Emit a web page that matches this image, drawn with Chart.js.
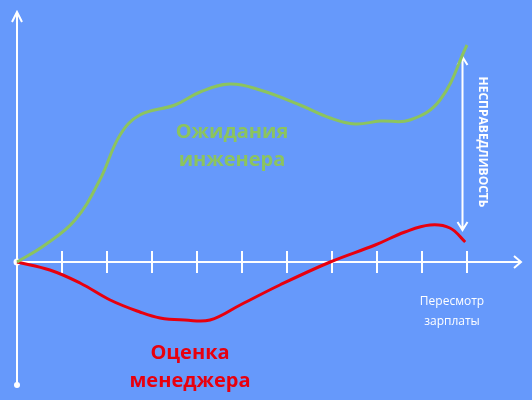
<!DOCTYPE html>
<html>
<head>
<meta charset="utf-8">
<script src="https://cdn.jsdelivr.net/npm/chart.js@4"></script>
<style>
  body { margin: 0; background: #6699fb; }
  #wrap { width: 532px; height: 400px; }
</style>
</head>
<body>
<div id="wrap"><canvas id="chart"></canvas></div>
<script>
// x in "tick" units (review periods), y in relative units above the axis
const expectX = [0, 0.62, 1.29, 1.84, 2.29, 2.73, 3.51, 4.07, 4.73, 5.4, 6.29, 6.96, 7.51, 8.07, 8.73, 9.4, 10];
const expectY = [0, 17, 42, 82, 127, 147, 157, 170, 178, 172, 157, 144, 138, 141, 142, 162, 217];
const managerX = [0, 0.73, 1.4, 2.07, 2.73, 3.18, 3.73, 4.29, 4.96, 5.84, 6.96, 7.96, 8.62, 9.18, 9.62, 9.96];
const managerY = [0, -8, -21, -38, -50, -56, -58, -58, -43, -23, 0, 17, 30, 37, 34, 20];
const tickPositions = [1, 2, 3, 4, 5, 6, 7, 8, 9, 10];

const toPoints = (xs, ys) => xs.map((x, i) => ({ x: x, y: ys[i] }));

const white = '#ffffff';

// axes, arrows and captions
const decor = {
    id: 'decor',
    beforeDatasetsDraw(chart) {
        const ctx = chart.ctx;
        const sx = chart.scales.x, sy = chart.scales.y;
        const x0 = sx.getPixelForValue(0), y0 = sy.getPixelForValue(0);
        ctx.save();
        ctx.strokeStyle = white;
        ctx.fillStyle = white;
        ctx.lineWidth = 2;
        // y axis
        ctx.beginPath();
        ctx.moveTo(x0, 385); ctx.lineTo(x0, 13);
        ctx.moveTo(x0 - 5, 22); ctx.lineTo(x0, 12); ctx.lineTo(x0 + 5, 22);
        ctx.stroke();
        ctx.beginPath(); ctx.arc(x0, 385, 3, 0, Math.PI * 2); ctx.fill();
        // x axis
        const xEnd = sx.getPixelForValue(11.2);
        ctx.beginPath();
        ctx.moveTo(x0, y0); ctx.lineTo(xEnd, y0);
        ctx.moveTo(xEnd - 7, y0 - 6); ctx.lineTo(xEnd, y0); ctx.lineTo(xEnd - 7, y0 + 6);
        ctx.stroke();
        tickPositions.forEach(t => {
            const px = sx.getPixelForValue(t);
            ctx.beginPath(); ctx.moveTo(px, y0 - 11); ctx.lineTo(px, y0 + 11); ctx.stroke();
        });
        ctx.beginPath(); ctx.arc(x0, y0, 3.5, 0, Math.PI * 2); ctx.fill();
        // double arrow
        const ax = sx.getPixelForValue(9.9);
        const ya = sy.getPixelForValue(205), yb = sy.getPixelForValue(32);
        ctx.beginPath();
        ctx.moveTo(ax, ya); ctx.lineTo(ax, yb);
        ctx.moveTo(ax - 5, ya + 8); ctx.lineTo(ax, ya); ctx.lineTo(ax + 5, ya + 8);
        ctx.moveTo(ax - 5, yb - 8); ctx.lineTo(ax, yb); ctx.lineTo(ax + 5, yb - 8);
        ctx.stroke();
        // captions
        ctx.textAlign = 'center';
        ctx.textBaseline = 'middle';
        ctx.font = 'bold 20px "Open Sans"';
        ctx.fillStyle = '#8cc45e';
        ctx.fillText('Ожидания', 232, 132);
        ctx.fillText('инженера', 232, 160);
        ctx.fillStyle = '#e8000e';
        ctx.fillText('Оценка', 190, 353);
        ctx.fillText('менеджера', 190, 381);
        ctx.fillStyle = white;
        ctx.font = '12px "Open Sans"';
        ctx.fillText('Пересмотр', 452, 302);
        ctx.fillText('зарплаты', 452, 322);
        ctx.translate(482, 142);
        ctx.rotate(Math.PI / 2);
        ctx.font = 'bold 12px "Open Sans"';
        ctx.fillText('НЕСПРАВЕДЛИВОСТЬ', 0, 0);
        ctx.restore();
    }
};

new Chart(document.getElementById('chart'), {
    type: 'scatter',
    data: {
        datasets: [{
            data: toPoints(expectX, expectY),
            showLine: true,
            borderColor: '#8cc45e',
            borderWidth: 3,
            pointRadius: 0,
            tension: 0.4
        }, {
            data: toPoints(managerX, managerY),
            showLine: true,
            borderColor: '#e8000e',
            borderWidth: 3,
            pointRadius: 0,
            tension: 0.4
        }]
    },
    options: {
        responsive: true,
        maintainAspectRatio: false,
        animation: false,
        layout: { padding: 0 },
        plugins: { legend: { display: false }, tooltip: { enabled: false } },
        scales: {
            x: { type: 'linear', display: false, min: -17 / 45, max: 515 / 45 },
            y: { type: 'linear', display: false, min: -138, max: 262 }
        }
    },
    plugins: [decor]
});
</script>
</body>
</html>
